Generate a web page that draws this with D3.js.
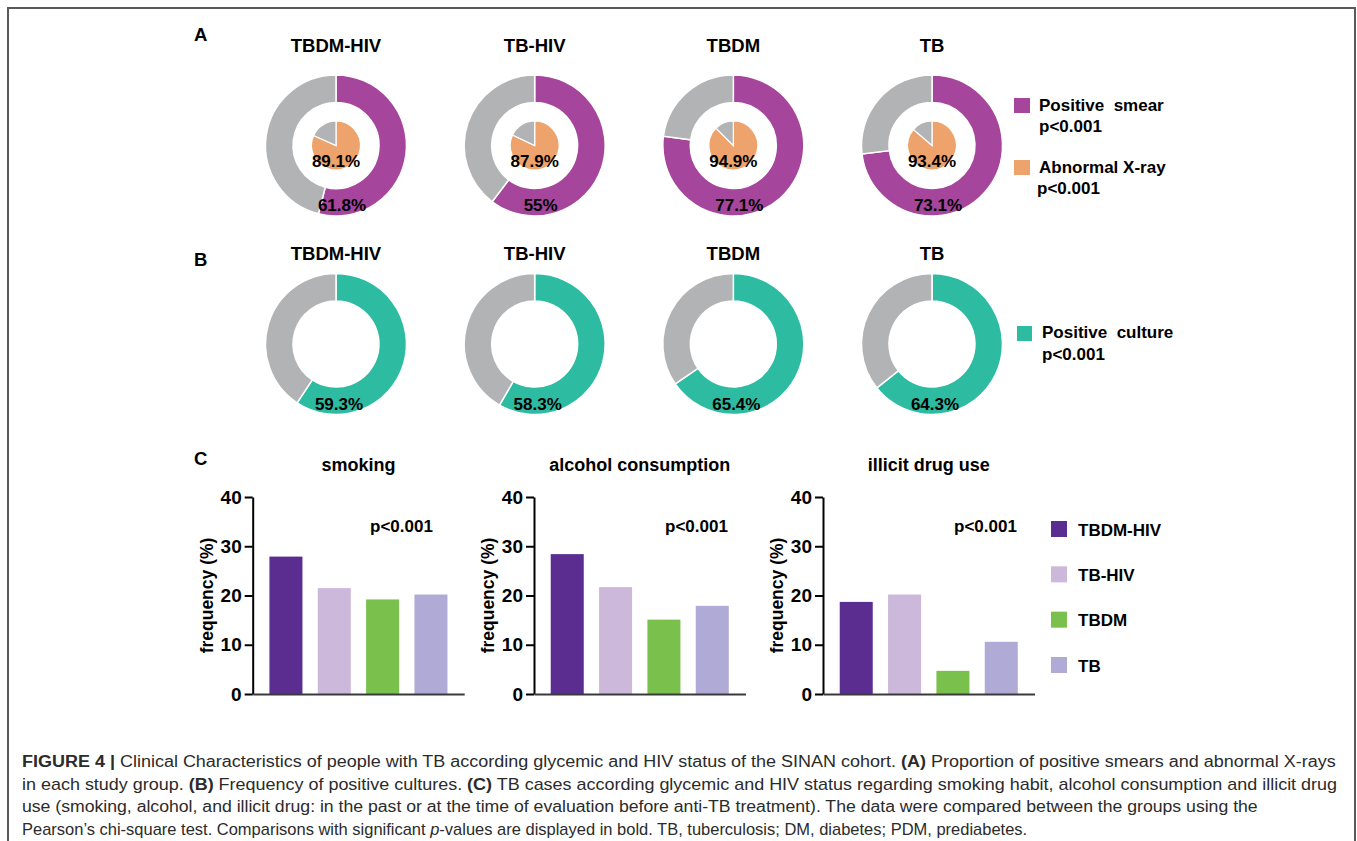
<!DOCTYPE html>
<html lang="en">
<head>
<meta charset="UTF-8">
<script src="https://cdn.jsdelivr.net/npm/d3@7"></script>
<title>Figure 4</title>
<style>
    body { margin: 0; background: #fff; }
    svg text { font-family: "Liberation Sans", Arial, sans-serif; }
</style>
</head>
<body>
<svg id="fig" width="1357" height="841"></svg>
<script>
// groups, shared by every panel
const groups = ["TBDM-HIV", "TB-HIV", "TBDM", "TB"];

// panel A: printed percentages, and the share the source figure actually draws
const smearPct = [61.8, 55, 77.1, 73.1];
const smearRing = [54, 60.3, 77.1, 73.1];
const xrayPct = [89.1, 87.9, 94.9, 93.4];
const xrayPie = [81.7, 82, 87.5, 86.3];

// panel B
const culturePct = [59.3, 58.3, 65.4, 64.3];

// panel C
const habits = ["smoking", "alcohol consumption", "illicit drug use"];
const smoking = [27.9, 21.5, 19.2, 20.2];
const alcohol = [28.4, 21.7, 15.1, 17.9];
const illicitDrug = [18.7, 20.2, 4.7, 10.6];
const yTicks = [0, 10, 20, 30, 40];
const pText = "p<0.001";

const captionLines = [
    [["FIGURE 4 | ", "b"], ["Clinical Characteristics of people with TB according glycemic and HIV status of the SINAN cohort. ", ""], ["(A)", "b"], [" Proportion of positive smears and abnormal X-rays", ""]],
    [["in each study group. ", ""], ["(B)", "b"], [" Frequency of positive cultures. ", ""], ["(C)", "b"], [" TB cases according glycemic and HIV status regarding smoking habit, alcohol consumption and illicit drug", ""]],
    [["use (smoking, alcohol, and illicit drug: in the past or at the time of evaluation before anti-TB treatment). The data were compared between the groups using the", ""]],
    [["Pearson\u2019s chi-square test. Comparisons with significant ", ""], ["p", "i"], ["-values are displayed in bold. TB, tuberculosis; DM, diabetes; PDM, prediabetes.", ""]]
];
// printed width of each caption line
const captionWidths = [1314, 1316, 1237, 1006];

const col = { smear: "#a5459b", xray: "#eea36c", culture: "#2dbca1", rest: "#b2b3b5" };
const barColors = ["#5c2d91", "#cbb8da", "#79c14c", "#afabd6"];

const svg = d3.select("#fig");

// frame
svg.append("rect")
    .attr("x", 8).attr("y", 8).attr("width", 1347).attr("height", 900)
    .attr("fill", "none").attr("stroke", "#5a5a5a").attr("stroke-width", 2);

const boldText = (sel, size) => sel.attr("font-weight", "bold").attr("font-size", size).attr("fill", "#000");
const pct = v => v + "%";

const xDonut = d3.scalePoint().domain(groups).range([336, 932]);
const pie = d3.pie().sort(null).value(d => d);
const ringArc = d3.arc().innerRadius(43).outerRadius(70.5);
const dotArc = d3.arc().innerRadius(0).outerRadius(24.5);

// ---------- panel A ----------
boldText(svg.append("text").attr("x", 194).attr("y", 41).text("A"), 18.5);

groups.forEach((grp, i) => {
    const cx = xDonut(grp);
    boldText(svg.append("text").attr("x", cx).attr("y", 52).attr("text-anchor", "middle").text(grp), 18.5);

    const g = svg.append("g").attr("transform", `translate(${cx},145.5)`);
    g.selectAll("path.ring")
        .data(pie([smearRing[i], 100 - smearRing[i]]))
        .join("path").attr("class", "ring")
        .attr("d", ringArc)
        .attr("fill", (d, j) => j ? col.rest : col.smear)
        .attr("stroke", "#fff").attr("stroke-width", 1.5);
    g.selectAll("path.dot")
        .data(pie([xrayPie[i], 100 - xrayPie[i]]))
        .join("path").attr("class", "dot")
        .attr("d", dotArc)
        .attr("fill", (d, j) => j ? col.rest : col.xray)
        .attr("stroke", "#fff").attr("stroke-width", 1.2);

    boldText(g.append("text").attr("y", 21.5).attr("text-anchor", "middle").text(pct(xrayPct[i])), 17);
    boldText(g.append("text").attr("x", 6).attr("y", 65.5).attr("text-anchor", "middle").text(pct(smearPct[i])), 17);
});

// legend A
svg.append("rect").attr("x", 1014).attr("y", 98).attr("width", 16).attr("height", 15).attr("fill", col.smear);
boldText(svg.append("text").attr("x", 1039).attr("y", 111).style("white-space", "pre").text("Positive  smear"), 17);
boldText(svg.append("text").attr("x", 1039).attr("y", 132).text(pText), 17);
svg.append("rect").attr("x", 1014).attr("y", 160).attr("width", 16).attr("height", 15).attr("fill", col.xray);
boldText(svg.append("text").attr("x", 1039).attr("y", 173).text("Abnormal X-ray"), 17);
boldText(svg.append("text").attr("x", 1037).attr("y", 194).text(pText), 17);

// ---------- panel B ----------
boldText(svg.append("text").attr("x", 194).attr("y", 266).text("B"), 18.5);

groups.forEach((grp, i) => {
    const cx = xDonut(grp);
    boldText(svg.append("text").attr("x", cx).attr("y", 260).attr("text-anchor", "middle").text(grp), 18.5);

    const g = svg.append("g").attr("transform", `translate(${cx},344)`);
    g.selectAll("path")
        .data(pie([culturePct[i], 100 - culturePct[i]]))
        .join("path")
        .attr("d", ringArc)
        .attr("fill", (d, j) => j ? col.rest : col.culture)
        .attr("stroke", "#fff").attr("stroke-width", 1.5);
    boldText(g.append("text").attr("x", 3).attr("y", 66).attr("text-anchor", "middle").text(pct(culturePct[i])), 17);
});

svg.append("rect").attr("x", 1017).attr("y", 326).attr("width", 15).attr("height", 15).attr("fill", col.culture);
boldText(svg.append("text").attr("x", 1042).attr("y", 338).style("white-space", "pre").text("Positive  culture"), 17);
boldText(svg.append("text").attr("x", 1042).attr("y", 360).text(pText), 17);

// ---------- panel C ----------
boldText(svg.append("text").attr("x", 194).attr("y", 465).text("C"), 18.5);

const series = [smoking, alcohol, illicitDrug];
const chartX = [252.7, 534, 823];
const chartW = 211.5;
const pX = [370, 665, 954];
const y = d3.scaleLinear().domain([0, 40]).range([694, 497]);

habits.forEach((habit, k) => {
    const x0 = chartX[k];
    const x = d3.scaleBand().domain(groups).range([x0, x0 + chartW])
        .paddingInner(0.317).paddingOuter(0.346);
    const g = svg.append("g");

    g.selectAll("rect")
        .data(series[k])
        .join("rect")
        .attr("x", (d, i) => x(groups[i]))
        .attr("y", d => y(d))
        .attr("width", x.bandwidth())
        .attr("height", d => y(0) - y(d))
        .attr("fill", (d, i) => barColors[i]);

    const ya = g.append("g").attr("transform", `translate(${x0},0)`)
        .call(d3.axisLeft(y).tickValues(yTicks).tickSize(8).tickPadding(3).tickSizeOuter(0));
    ya.select(".domain").attr("stroke", "#000").attr("stroke-width", 2);
    ya.selectAll(".tick line").attr("stroke", "#000").attr("stroke-width", 2);
    ya.selectAll(".tick text")
        .attr("font-family", "Liberation Sans, Arial, sans-serif")
        .attr("font-size", 19).attr("font-weight", "bold").attr("fill", "#000");

    const xa = g.append("g").attr("transform", `translate(0,${y(0)})`)
        .call(d3.axisBottom(x).tickValues([]).tickSizeOuter(0));
    xa.select(".domain").attr("stroke", "#3a3a3a").attr("stroke-width", 2);

    boldText(g.append("text").attr("x", x0 + chartW / 2).attr("y", 471).attr("text-anchor", "middle").text(habit), 18);
    boldText(g.append("text")
        .attr("transform", `translate(${x0 - 40},${(y(0) + y(40)) / 2}) rotate(-90)`)
        .attr("text-anchor", "middle").text("frequency (%)"), 17.5);
    boldText(g.append("text").attr("x", pX[k]).attr("y", 532).text(pText), 17);
});

// legend C
const yLeg = d3.scalePoint().domain(groups).range([529, 665]);
groups.forEach((grp, i) => {
    svg.append("rect").attr("x", 1051).attr("y", yLeg(grp) - 8).attr("width", 16).attr("height", 16).attr("fill", barColors[i]);
    boldText(svg.append("text").attr("x", 1078).attr("y", yLeg(grp) + 6.5).text(grp), 17);
});

// ---------- caption ----------
captionLines.forEach((segs, li) => {
    const t = svg.append("text")
        .attr("y", 767 + li * 22.6)
        .attr("font-size", 16).attr("fill", "#2b2b2b")
        .style("white-space", "pre");
    segs.forEach(([s, f]) => {
        t.append("tspan").text(s)
            .attr("font-weight", f === "b" ? "bold" : null)
            .attr("font-style", f === "i" ? "italic" : null);
    });
    // squeeze or stretch the line to its printed width
    const sx = captionWidths[li] / t.node().getComputedTextLength();
    t.attr("x", 22 / sx).attr("transform", `scale(${sx},1)`);
});
</script>
</body>
</html>
